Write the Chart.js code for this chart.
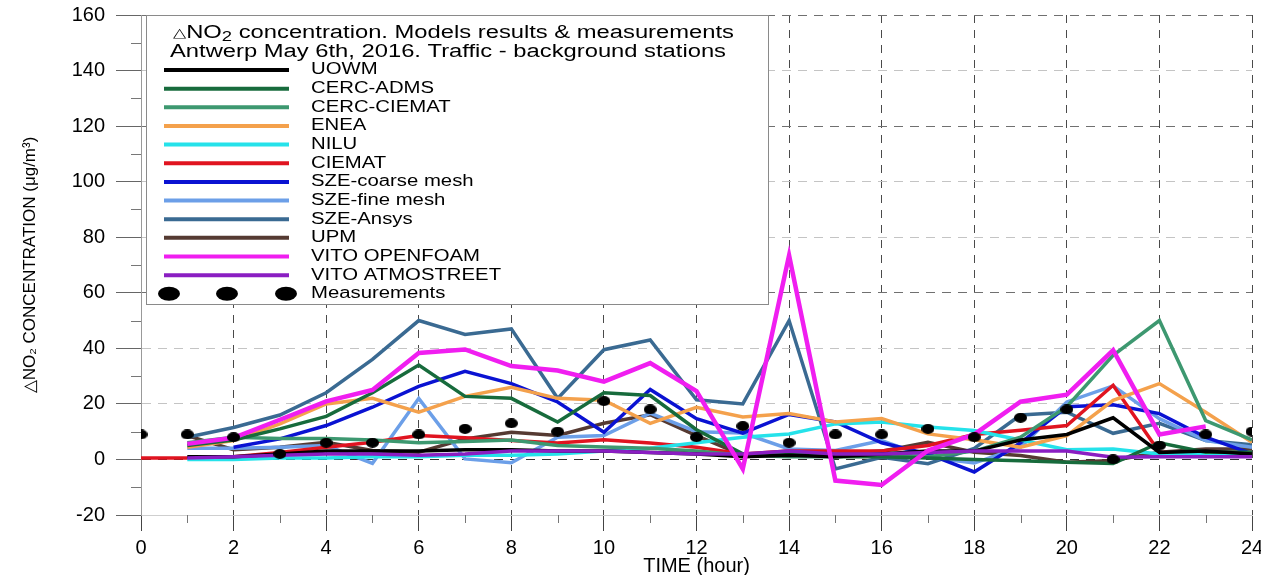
<!DOCTYPE html>
<html>
<head>
<meta charset="utf-8">
<title>NO2 concentration - Antwerp</title>
<script src="https://cdn.jsdelivr.net/npm/chart.js@4.4.1/dist/chart.umd.min.js"></script>
<style>
  html, body { margin: 0; padding: 0; background: #fff; }
  #wrap { width: 1261px; height: 575px; }
</style>
</head>
<body>
<div id="wrap"><canvas id="no2Chart" width="1261" height="575"></canvas></div>
<script>
// ore 0..24
const hours = [0, 1, 2, 3, 4, 5, 6, 7, 8, 9, 10, 11, 12, 13, 14, 15, 16, 17, 18, 19, 20, 21, 22, 23, 24];

// valorile modelelor
const uowm        = [null, 1, 1, 2, 3, 3, 3, 3.5, 3.5, 3, 3, 2.5, 2, 1, 1.5, 1, 2, 3, 3, 7, 9, 15, 2.5, 3, 2];
const cercAdms    = [null, 5, 7, 11, 15.5, 24, 34, 22.7, 22, 13.5, 24, 23, 10.7, 2, 2, 1, 1, 0.5, 0, -0.5, -1, -1.5, 6, 2.6, 2.6];
const cercCiemat  = [null, 6, 8, 7.5, 7.5, 7, 6, 6.5, 7, 5, 4.5, 4, 3, 1.5, 1, 1, 2, 1, 3, 8, 19, 37.5, 50, 14, 7];
const enea        = [null, 4.4, 6.8, 12.8, 20, 22, 17, 22.7, 26, 22, 21.3, 13, 18.8, 15.3, 16.5, 13.5, 14.7, 9.2, 7.1, 4.4, 8.6, 21.3, 27.3, 17, 6.2];
const nilu        = [null, 0, 0, 0.5, 0.5, 1, 1, 1.5, 1.5, 2, 3, 4, 6, 8, 9.2, 12.8, 13.5, 11.7, 10.4, 7, 3.5, 3.8, 2, 2, 2];
const ciemat      = [0.5, 0.5, 1, 2.5, 4.4, 6.2, 8.6, 7.8, 6.8, 5.9, 7.1, 5.9, 4.4, 2, 3, 3, 3, 5, 9, 10.5, 12.2, 26.7, 2.6, 2, 1.5];
const szeCoarse   = [null, null, 4.4, 7.4, 12.2, 18.8, 26.3, 31.7, 27.3, 20.7, 9.8, 25.2, 14.7, 9.5, 16.2, 13.5, 6, 2, -4.5, 6, 19, 19.7, 16.5, 8, 2];
const szeFine     = [null, 4, 4, 4.4, 5, -1.4, 22, 0.2, -1.2, 8, 8.6, 16.7, 10, 9.5, 3.8, 3.2, 6.8, 0.8, -1.3, 4.4, 20.7, 26.5, 14.7, 6.8, 4.4];
const szeAnsys    = [null, 8, 11.5, 16, 24, 36, 50, 45, 47, 22, 39.5, 43, 21.5, 20, 50, -3.4, 0.8, -1.5, 4, 16, 17, 9.4, 13, 6.8, 5.3];
const upm         = [null, 8.6, 3.5, 4.4, 6.2, 3.2, 2.6, 7.4, 9.8, 8.6, 13, 16.1, 8.6, 1.5, 3, 2, 3, 6.2, 2.6, 1.4, -1, -0.4, 2.6, 3.8, 3.8];
const vitoOpenfoam = [null, 5.6, 7.8, 14.3, 20.9, 25, 38.3, 39.6, 33.6, 32, 28, 34.7, 24.6, -3.4, 73.5, -7.6, -9.2, 3.2, 9, 20.8, 23.3, 39.3, 9, 11.9, null];
const vitoAtmo    = [null, 0.5, 1, 1.5, 2, 2, 1.5, 2, 3, 3, 3, 2.5, 2, 2, 3, 2, 2, 2.5, 3, 3, 3, 0.8, 1, 1, 1];

// masuratori
const measurements = [9, 9, 8, 2, 6, 6, 9, 11, 13, 10, 21, 18, 8, 12, 6, 9, 9, 11, 8, 15, 18, 0, 5, 9, 10];

const FONT = "'Liberation Sans', Arial, sans-serif";

// punct eliptic pentru masuratori
function makeDot(w, h) {
    const c = document.createElement('canvas');
    c.width = w;
    c.height = h;
    const g = c.getContext('2d');
    g.fillStyle = '#000';
    g.beginPath();
    g.ellipse(w / 2, h / 2, w / 2, h / 2, 0, 0, Math.PI * 2);
    g.fill();
    return c;
}

function modelSet(label, data, color, width, order) {
    return {
        label: label,
        data: data,
        borderColor: color,
        backgroundColor: color,
        borderWidth: width,
        pointRadius: 0,
        fill: false,
        tension: 0,
        order: order
    };
}

const datasets = [
    modelSet('UOWM', uowm, '#000000', 3.5, 3),
    modelSet('CERC-ADMS', cercAdms, '#176b3c', 3.5, 3),
    modelSet('CERC-CIEMAT', cercCiemat, '#3d9870', 3.5, 3),
    modelSet('ENEA', enea, '#f4a14c', 3.5, 3),
    modelSet('NILU', nilu, '#25e2ea', 3.5, 3),
    modelSet('CIEMAT', ciemat, '#e01420', 3.5, 3),
    modelSet('SZE-coarse mesh', szeCoarse, '#0a12d2', 3.5, 3),
    modelSet('SZE-fine mesh', szeFine, '#6c9fe8', 3.5, 3),
    modelSet('SZE-Ansys', szeAnsys, '#3a6a92', 3.5, 3),
    modelSet('UPM', upm, '#553a32', 3.5, 3),
    modelSet('VITO OPENFOAM', vitoOpenfoam, '#f01ef0', 4.5, 1),
    modelSet('VITO ATMOSTREET', vitoAtmo, '#8a1ec2', 3.5, 2),
    {
        label: 'Measurements',
        data: measurements,
        showLine: false,
        pointStyle: makeDot(13, 10),
        pointRadius: 6,
        borderColor: '#000',
        backgroundColor: '#000',
        order: 0
    }
];

// legenda desenata in interiorul graficului
const legendBox = {
    id: 'legendBox',
    afterDatasetsDraw(chart) {
        const ctx = chart.ctx;
        const area = chart.chartArea;
        const x0 = area.left + 5, y0 = area.top, x1 = area.left + 627, y1 = area.top + 289;
        ctx.save();
        ctx.fillStyle = '#fff';
        ctx.fillRect(x0, y0, x1 - x0, y1 - y0);
        ctx.strokeStyle = '#8a8a8a';
        ctx.lineWidth = 1;
        ctx.strokeRect(x0 + 0.5, y0 + 0.5, x1 - x0, y1 - y0);

        const sx = 1.32;
        ctx.fillStyle = '#000';
        ctx.textBaseline = 'middle';
        ctx.textAlign = 'left';

        // titlu, linia 1 (cu indice)
        let tx = x0 + 27;
        const ty1 = y0 + 18, ty2 = y0 + 37;
        const piece = (txt, size, dy) => {
            ctx.font = size + 'px ' + FONT;
            ctx.save();
            ctx.translate(tx, ty1 + dy);
            ctx.scale(sx, 1);
            ctx.fillText(txt, 0, 0);
            ctx.restore();
            tx += ctx.measureText(txt).width * sx;
        };
        piece('\u25B3', 13, 0);
        piece('NO', 18, 0);
        piece('2', 14, 4);
        piece(' concentration. Models results & measurements', 18, 0);

        ctx.font = '18px ' + FONT;
        ctx.save();
        ctx.translate(x0 + 24, ty2);
        ctx.scale(sx, 1);
        ctx.fillText('Antwerp May 6th, 2016. Traffic - background stations', 0, 0);
        ctx.restore();

        // randuri
        const rowStart = y0 + 55, rowStep = 18.65;
        const lx0 = x0 + 18, lx1 = x0 + 143, textX = x0 + 165;
        chart.data.datasets.forEach((ds, i) => {
            const ry = rowStart + i * rowStep;
            if (ds.showLine === false) {
                [lx0 + 5, lx0 + 63, lx0 + 122].forEach(cx => {
                    ctx.beginPath();
                    ctx.ellipse(cx, ry, 11, 7, 0, 0, Math.PI * 2);
                    ctx.fill();
                });
            } else {
                ctx.strokeStyle = ds.borderColor;
                ctx.lineWidth = 4;
                ctx.beginPath();
                ctx.moveTo(lx0, ry);
                ctx.lineTo(lx1, ry);
                ctx.stroke();
            }
            ctx.font = '16px ' + FONT;
            ctx.save();
            ctx.translate(textX, ry);
            ctx.scale(1.27, 1);
            ctx.fillText(ds.label, 0, 0);
            ctx.restore();
        });
        ctx.restore();
    }
};

// gradatii minore
const minorTicks = {
    id: 'minorTicks',
    afterDraw(chart) {
        const {ctx, chartArea, scales} = chart;
        ctx.save();
        ctx.strokeStyle = '#777';
        ctx.lineWidth = 1;
        for (let h = 1; h < 24; h += 2) {
            const px = Math.round(scales.x.getPixelForValue(h)) + 0.5;
            ctx.beginPath();
            ctx.moveTo(px, chartArea.bottom);
            ctx.lineTo(px, chartArea.bottom + 8);
            ctx.stroke();
        }
        for (let v = -10; v < 160; v += 20) {
            const py = Math.round(scales.y.getPixelForValue(v)) + 0.5;
            ctx.beginPath();
            ctx.moveTo(chartArea.left - 10, py);
            ctx.lineTo(chartArea.left, py);
            ctx.stroke();
        }
        ctx.restore();
    }
};

const config = {
    type: 'line',
    data: { labels: hours, datasets: datasets },
    options: {
        responsive: false,
        animation: false,
        events: [],
        layout: { padding: { left: 20, top: 15, right: 9, bottom: 0 } },
        plugins: {
            legend: { display: false },
            tooltip: { enabled: false }
        },
        scales: {
            x: {
                type: 'linear',
                min: 0,
                max: 24,
                afterFit(scale) {
                    scale.height = 60;
                    scale.paddingLeft = 0;
                    scale.paddingRight = 0;
                },
                ticks: {
                    stepSize: 2,
                    padding: 7,
                    color: '#000',
                    maxRotation: 0,
                    font: { family: FONT, size: 20, lineHeight: 1 }
                },
                grid: {
                    color: c => (c.tick && c.tick.value === 0) ? 'rgba(0,0,0,0)' : '#4a4a4a',
                    lineWidth: 1,
                    tickLength: 16,
                    tickColor: '#444'
                },
                border: { color: '#cfcfcf', dash: c => c.tick ? [8, 7] : [] },
                title: {
                    display: true,
                    text: 'TIME (hour)',
                    color: '#000',
                    font: { family: FONT, size: 20, lineHeight: 1 },
                    padding: { top: 0, bottom: -1 }
                }
            },
            y: {
                min: -20,
                max: 160,
                afterFit(scale) {
                    scale.width = 121;
                    scale.paddingTop = 0;
                    scale.paddingBottom = 0;
                },
                ticks: {
                    stepSize: 20,
                    padding: 11,
                    color: '#000',
                    font: { family: FONT, size: 20 }
                },
                grid: {
                    color: c => {
                        if (!c.tick) return '#ccc';
                        const v = c.tick.value;
                        if (v === 0) return '#333';
                        if (v === 60 || v === 120 || v === 160) return '#707070';
                        return '#c4c4c4';
                    },
                    lineWidth: 1,
                    tickLength: 25,
                    tickColor: '#666'
                },
                border: {
                    color: '#999',
                    dash: c => (c.tick && c.tick.value !== -20) ? [9, 7] : []
                },
                title: {
                    display: true,
                    text: '\u25B3NO\u2082 CONCENTRATION (\u03BCg/m\u00B3)',
                    color: '#000',
                    font: { family: FONT, size: 17 },
                    padding: { top: 0, bottom: 31 }
                }
            }
        }
    },
    plugins: [legendBox, minorTicks]
};

new Chart(document.getElementById('no2Chart').getContext('2d'), config);
</script>
</body>
</html>
